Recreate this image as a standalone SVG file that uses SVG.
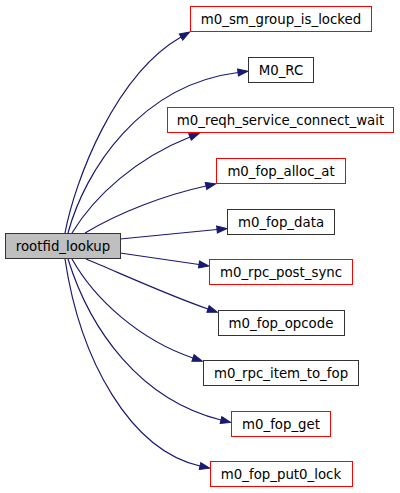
<svg xmlns="http://www.w3.org/2000/svg" width="400" height="493" viewBox="0 0 400 493">
<style>
.n rect{fill:#fff;stroke-width:1}
.red rect{stroke:#ff0000}
.blk rect{stroke:#333}
.cur rect{fill:#bfbfbf;stroke:#333}
.n text{font-family:"DejaVu Sans",sans-serif;font-size:13.33px;fill:#000;text-anchor:middle}
.e path{fill:none;stroke:#191970;stroke-width:1.2}
</style>
<defs>
<marker id="ah" markerWidth="11" markerHeight="8" refX="0" refY="4" orient="auto" markerUnits="userSpaceOnUse" overflow="visible">
<path d="M0,0.5 L10,4 L0,7.5 z" fill="#191970" stroke="#191970" stroke-width="1"/>
</marker>
</defs>
<rect width="400" height="493" fill="#fff"/>
<g id="edges" class="e">
<path marker-end="url(#ah)" d="M65,233 C75,180 115,75 181,37"/>
<path marker-end="url(#ah)" d="M68,233 C85,170 140,85 238,72.5"/>
<path marker-end="url(#ah)" d="M72,233 C95,195 137,158 190,137"/>
<path marker-end="url(#ah)" d="M85,233 C120,212 165,195 206,186"/>
<path marker-end="url(#ah)" d="M120,239 L217,229.5"/>
<path marker-end="url(#ah)" d="M120,253 L199,264.5"/>
<path marker-end="url(#ah)" d="M86,259 C120,273 165,294 208,309"/>
<path marker-end="url(#ah)" d="M72,259 C95,300 140,340 193,358"/>
<path marker-end="url(#ah)" d="M68,259 C90,330 140,400 221,420"/>
<path marker-end="url(#ah)" d="M65,259 C80,360 130,450 200,466"/>
</g>
<g id="rootfid_lookup" class="n cur"><rect x="5.5" y="233.5" width="115" height="25"/><text x="63" y="251">rootfid_lookup</text></g>
<g id="m0_sm_group_is_locked" class="n red"><rect x="190.5" y="6.5" width="181" height="25"/><text x="281" y="24">m0_sm_group_is_locked</text></g>
<g id="M0_RC" class="n blk"><rect x="248.5" y="57.5" width="65" height="25"/><text x="281" y="75">M0_RC</text></g>
<g id="m0_reqh_service_connect_wait" class="n red"><rect x="167.5" y="107.5" width="226" height="25"/><text x="280.5" y="125">m0_reqh_service_connect_wait</text></g>
<g id="m0_fop_alloc_at" class="n red"><rect x="216.5" y="158.5" width="129" height="25"/><text x="281" y="176">m0_fop_alloc_at</text></g>
<g id="m0_fop_data" class="n blk"><rect x="227.5" y="209.5" width="107" height="25"/><text x="281" y="227">m0_fop_data</text></g>
<g id="m0_rpc_post_sync" class="n red"><rect x="209.5" y="259.5" width="143" height="25"/><text x="281" y="277">m0_rpc_post_sync</text></g>
<g id="m0_fop_opcode" class="n blk"><rect x="218.5" y="310.5" width="126" height="25"/><text x="281" y="328">m0_fop_opcode</text></g>
<g id="m0_rpc_item_to_fop" class="n blk"><rect x="203.5" y="360.5" width="155" height="25"/><text x="281" y="378">m0_rpc_item_to_fop</text></g>
<g id="m0_fop_get" class="n red"><rect x="231.5" y="411.5" width="99" height="25"/><text x="281" y="429">m0_fop_get</text></g>
<g id="m0_fop_put0_lock" class="n red"><rect x="210.5" y="461.5" width="142" height="25"/><text x="281" y="479">m0_fop_put0_lock</text></g>
</svg>
